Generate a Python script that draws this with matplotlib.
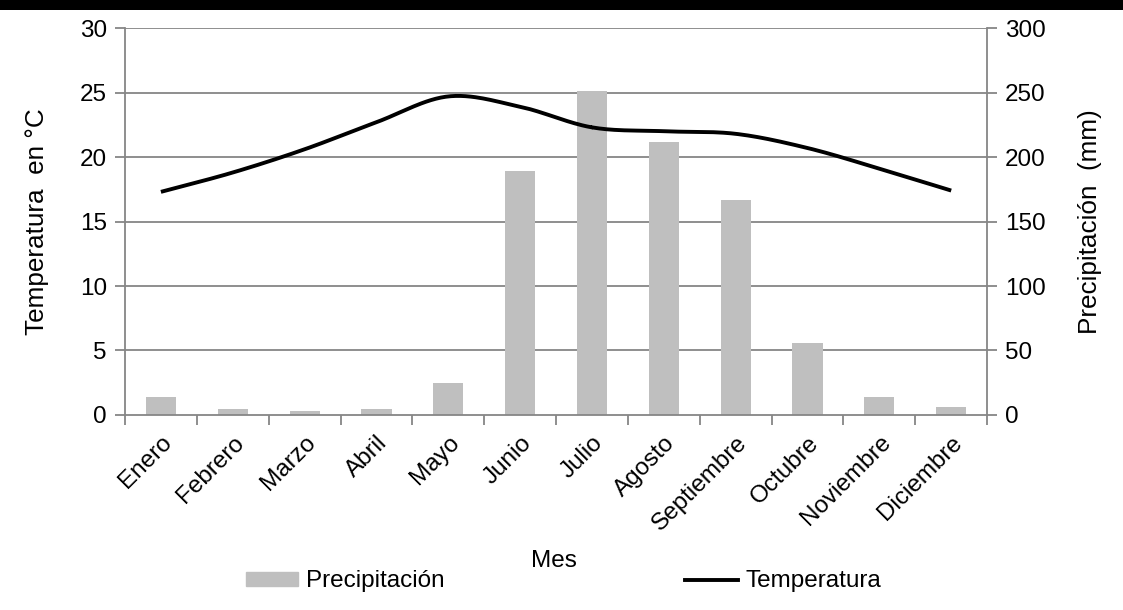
import numpy as np
import matplotlib.pyplot as plt
from matplotlib.patches import Rectangle, Patch
from matplotlib.lines import Line2D

plt.rcParams['font.family'] = ['Liberation Sans', 'DejaVu Sans']

meses = ["Enero", "Febrero", "Marzo", "Abril", "Mayo", "Junio", "Julio",
         "Agosto", "Septiembre", "Octubre", "Noviembre", "Diciembre"]
precipitacion = [14, 4.5, 3, 4.5, 25, 189, 251, 212, 167, 56, 14, 6.5]
temperatura = [17.3, 18.8, 20.6, 22.7, 24.7, 23.9, 22.3, 22.0, 21.8, 20.7, 19.1, 17.4]


def catmull_rom(x, y, n=30):
    # smoothed line through every point, like a spreadsheet "smoothed line"
    x = np.asarray(x, float)
    y = np.asarray(y, float)
    px = np.concatenate([[2 * x[0] - x[1]], x, [2 * x[-1] - x[-2]]])
    py = np.concatenate([[2 * y[0] - y[1]], y, [2 * y[-1] - y[-2]]])
    xs, ys = [], []
    t = np.linspace(0, 1, n)
    for i in range(1, len(px) - 2):
        for p, out in ((px, xs), (py, ys)):
            p0, p1, p2, p3 = p[i - 1], p[i], p[i + 1], p[i + 2]
            out.extend(0.5 * (2 * p1 + (-p0 + p2) * t
                              + (2 * p0 - 5 * p1 + 4 * p2 - p3) * t ** 2
                              + (-p0 + 3 * p1 - 3 * p2 + p3) * t ** 3))
    return np.array(xs), np.array(ys)


grey = "#868686"
fs = 17.5

fig = plt.figure(figsize=(11.23, 6.10), dpi=100)
ax = fig.add_axes([0.1113, 0.3197, 0.7677, 0.6343])
ax2 = ax.twinx()

x = np.arange(len(meses))

# bars on the right axis, temperature on the left axis drawn above
ax2.bar(x, precipitacion, width=0.42, color="#BFBFBF", zorder=2)
ax.set_zorder(ax2.get_zorder() + 1)
ax.patch.set_visible(False)

sx, sy = catmull_rom(x, temperatura)
ax.plot(sx, sy, color="black", lw=2.8, solid_capstyle="butt", zorder=3)

ax.set_xlim(-0.5, len(meses) - 0.5)
ax.set_ylim(0, 30)
ax.set_yticks(range(0, 31, 5))
ax2.set_ylim(0, 300)
ax2.set_yticks(range(0, 301, 50))

for yv in range(5, 31, 5):
    ax2.axhline(yv * 10, color=grey, lw=1.3, zorder=1)

ax.set_xticks(np.arange(-0.5, len(meses), 1))
ax.set_xticklabels([])
ax.set_xticks(x, minor=True)
ax.set_xticklabels(meses, minor=True, rotation=45, ha="right",
                   rotation_mode="anchor", fontsize=fs)
ax.tick_params(axis="x", which="minor", length=0, pad=12)
ax.tick_params(axis="x", which="major", length=7, width=1.3, color=grey)
ax.tick_params(axis="y", length=7, width=1.3, color=grey, labelsize=fs, pad=6)
ax2.tick_params(axis="y", length=7, width=1.3, color=grey, labelsize=fs, pad=6)

for a in (ax, ax2):
    a.spines["top"].set_visible(False)
    for side in ("left", "right", "bottom"):
        a.spines[side].set_color(grey)
        a.spines[side].set_linewidth(1.3)
ax.spines["right"].set_visible(False)
ax2.spines["left"].set_visible(False)
ax2.spines["bottom"].set_visible(False)

ax.set_ylabel("Temperatura  en °C", fontsize=18.8, labelpad=22)
ax2.set_ylabel("Precipitación  (mm)", fontsize=18.8, labelpad=23)
fig.text(0.493, 0.081, "Mes", fontsize=fs, ha="center", va="center")

handles = [Patch(color="#BFBFBF"), Line2D([], [], color="black", lw=2.8)]
fig.legend(handles, ["Precipitación", "Temperatura"], loc="center",
           bbox_to_anchor=(0.502, 0.047), ncol=2, frameon=False, fontsize=fs,
           handlelength=2.15, handleheight=0.5, handletextpad=0.33,
           columnspacing=9.9, borderpad=0, borderaxespad=0)

# heavy rule along the top edge
fig.add_artist(Rectangle((0, 0.984), 1, 0.016, transform=fig.transFigure,
                         color="black", lw=0))

fig.savefig("out.png", dpi=100)
